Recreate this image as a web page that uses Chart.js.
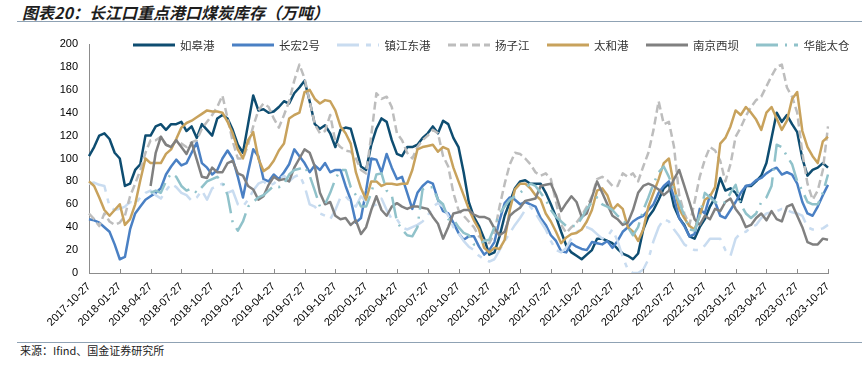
<!DOCTYPE html>
<html>
<head>
<meta charset="utf-8">
<script src="https://cdn.jsdelivr.net/npm/chart.js@4.4.0/dist/chart.umd.min.js"></script>
<style>
  html, body { margin: 0; padding: 0; background: #fff; }
  body { width: 862px; height: 368px; position: relative; overflow: hidden; font-family: "Noto Sans CJK SC", sans-serif; }
  .title { position: absolute; left: 22px; top: 3px; font-size: 16px; line-height: 18px; font-weight: bold; font-style: italic; color: #1e1e1e; white-space: nowrap; }
  .rule { position: absolute; left: 17px; right: 0; border-top: 1.5px solid #8fa2b4; }
  .source { position: absolute; left: 20px; top: 344px; font-size: 11px; line-height: 13px; color: #222; white-space: nowrap; }
  .wrap { position: absolute; left: 0; top: 0; width: 862px; height: 342px; }
  .legend { position: absolute; left: 133px; top: 38px; display: flex; align-items: center; font-size: 11.5px; line-height: 14px; color: #333; white-space: nowrap; }
  .legend .item { display: flex; align-items: center; margin-right: 17.5px; }
  .legend svg { margin-right: 5px; }
</style>
</head>
<body>
<div class="title">图表20：长江口重点港口煤炭库存（万吨）</div>
<div class="rule" style="top:21px"></div>
<div class="wrap"><canvas id="c"></canvas></div>
<div class="legend" id="legend"></div>
<div class="rule" style="top:342px"></div>
<div class="source">来源：Ifind、国金证券研究所</div>
<script>
// ---- data: half-monthly readings, 2017-10-27 .. 2023-10-27 (145 points) ----
const startYear = 2017, startMonth = 10;
const seriesNames = ["如皋港", "长宏2号", "镇江东港", "扬子江", "太和港", "南京西坝", "华能太仓"];

const rugao = [102,110,120,122,117,105,100,76,78,90,
  95,120,120,128,130,125,130,130,132,124,
  128,118,130,125,120,135,138,135,125,112,
  105,130,155,142,143,140,141,145,150,148,
  157,162,168,150,130,
  126,129,122,110,125,
  127,126,110,93,90,112,126,135,132,116,
  104,102,110,110,112,118,122,128,122,133,
  130,118,110,88,62,49,41,30,16,18,
  32,50,62,74,80,81,78,78,78,70,
  60,49,36,24,18,15,12,16,20,
  30,30,28,26,21,17,15,12,17,38,49,
  55,64,74,78,58,48,42,32,30,40,47,
  58,66,83,72,74,70,62,76,76,80,
  85,96,118,140,132,138,130,123,100,85,
  90,92,96,92];

const changhong = [47,46,44,40,36,25,12,14,38,52,
  58,64,67,70,74,86,93,99,94,96,
  105,114,96,92,86,90,100,107,100,84,
  66,88,108,102,82,80,86,82,88,95,
  108,102,96,88,94,
  90,96,88,90,90,
  76,64,44,48,72,100,99,88,104,92,
  82,84,70,56,70,76,80,78,64,54,
  52,44,35,29,32,32,23,16,20,27,
  46,61,66,64,60,62,60,58,48,42,
  33,28,19,18,26,23,21,20,27,
  26,25,28,22,28,36,40,45,48,50,55,
  60,70,76,80,66,48,41,32,34,56,52,
  68,62,50,48,55,62,70,76,77,81,
  83,87,90,92,86,88,86,78,62,52,
  50,58,68,77];

const zhenjiang = [78,79,77,76,58,55,56,58,62,60,
  66,70,72,68,65,72,78,75,70,68,
  63,66,72,64,74,76,78,70,72,60,
  58,64,72,78,80,76,78,82,85,80,
  84,86,76,60,58,
  52,50,47,55,66,67,62,58,67,62,58,60,65,55,47,47,40,38,40,42,45,50,58,61,58,50,40,35,28,23,20,15,12,10,12,
  20,28,35,42,48,55,58,52,45,38,28,20,18,22,30,36,38,40,38,34,
  30,32,38,28,14,3,0,0,3,12,28,40,47,45,38,32,25,22,20,20,
  24,30,30,30,20,15,30,35,36,40,42,48,52,53,54,56,55,53,52,50,40,38,38,39,42];

const yangzijiang = [52,47,41,52,45,42,44,50,67,78,
  90,105,116,116,119,112,110,116,113,110,
  114,116,126,132,138,145,155,135,115,100,
  100,112,128,142,148,145,135,127,138,150,
  168,182,170,150,130,
  122,124,138,115,110,107,106,100,90,87,120,157,152,154,145,122,116,105,100,
  110,116,120,125,122,102,93,70,55,50,45,40,32,28,26,
  35,58,78,95,105,104,100,95,88,85,87,82,62,42,35,40,44,50,58,67,
  82,84,81,76,76,87,84,87,80,93,105,125,150,130,132,110,68,52,42,62,84,99,
  110,107,98,80,95,119,127,137,145,151,154,163,172,180,182,162,154,140,105,78,64,72,90,128];

const taihe = [80,76,66,55,50,55,60,42,47,60,
  81,100,96,96,96,104,108,117,127,131,
  133,136,139,142,141,141,140,132,122,108,
  100,116,123,100,89,92,98,107,113,135,
  138,140,158,160,152,
  148,151,150,142,128,122,113,88,74,64,80,80,76,78,78,77,78,78,90,108,110,111,112,106,110,108,92,80,68,56,46,38,22,18,
  22,21,29,55,73,78,78,74,68,64,52,45,36,26,31,34,35,38,45,55,
  72,74,68,55,60,56,40,36,28,38,58,70,82,96,100,76,56,48,41,38,50,64,67,75,113,
  118,128,142,138,145,140,134,125,140,145,135,125,133,152,158,124,110,102,96,115,119];

const nanjing = [null,null,null,null,null,null,null,null,null,null,null,null,
  76,105,119,112,110,116,110,104,114,99,84,83,92,88,88,96,98,87,85,76,73,64,67,77,84,81,82,80,92,100,108,105,93,
  70,60,62,50,47,48,42,46,34,40,55,67,55,50,58,61,58,56,58,58,57,56,49,43,30,40,52,53,55,55,51,49,49,47,39,
  33,36,50,54,57,63,64,65,76,77,78,68,54,61,67,62,49,52,66,
  80,70,60,50,47,42,44,55,70,76,78,76,73,68,72,82,90,76,62,47,42,50,47,56,54,
  62,65,56,50,40,42,48,52,46,54,47,45,58,60,50,40,27,25,25,30,29];

const huaneng = [null,null,null,null,null,null,null,null,null,null,null,null,
  70,72,70,80,87,84,76,72,74,70,75,80,82,84,80,68,44,37,45,58,62,66,68,72,76,75,78,86,90,91,93,85,72,
  58,60,70,82,90,90,75,68,58,58,70,86,87,72,68,45,38,33,32,40,73,75,75,64,60,47,47,40,35,33,25,25,28,29,40,52,
  58,64,67,70,74,78,76,70,64,55,49,45,41,41,41,48,56,62,
  66,60,58,55,50,47,40,33,40,55,66,78,88,93,84,72,62,50,38,37,50,70,66,62,60,
  62,70,77,60,52,48,52,62,66,76,112,110,102,95,80,72,62,60,60,70,86];

const colors = ["#0E4D71", "#4A80C4", "#C9DCF0", "#BDBDBD", "#C8A25C", "#808080", "#90C2CA"];
const dashes = [[], [], [22, 7, 5, 7], [8, 4], [], [], [22, 7, 2, 7]];
const values = [rugao, changhong, zhenjiang, yangzijiang, taihe, nanjing, huaneng];

// category labels: the 27th and the 12th of each month
function pad2(n) { return String(n).padStart(2, "0"); }
const labels = rugao.map(function (v, i) {
  const m = startMonth - 1 + Math.ceil(i / 2);
  const y = startYear + Math.floor(m / 12);
  return y + "-" + pad2(m % 12 + 1) + "-" + (i % 2 === 0 ? "27" : "12");
});

// legend (HTML)
const legendEl = document.getElementById("legend");
seriesNames.forEach(function (name, i) {
  const item = document.createElement("div");
  item.className = "item";
  const dash = dashes[i].length ? ' stroke-dasharray="' + dashes[i].join(" ") + '"' : "";
  item.innerHTML = '<svg width="42" height="6"><line x1="0" y1="3" x2="42" y2="3" stroke="' + colors[i] +
    '" stroke-width="3"' + dash + '/></svg><span>' + name + '</span>';
  legendEl.appendChild(item);
});

// short tick marks pointing up into the plot on the x axis
const innerTicks = {
  id: "innerTicks",
  afterDraw: function (chart) {
    const xs = chart.scales.x, ctx = chart.ctx, y0 = chart.chartArea.bottom;
    ctx.save();
    ctx.strokeStyle = "#8c8c8c";
    ctx.lineWidth = 1;
    xs.ticks.forEach(function (t) {
      const px = Math.round(xs.getPixelForValue(t.value)) + 0.5;
      ctx.beginPath();
      ctx.moveTo(px, y0);
      ctx.lineTo(px, y0 - 4);
      ctx.stroke();
    });
    ctx.restore();
  }
};

new Chart(document.getElementById("c"), {
  type: "line",
  data: {
    labels: labels,
    datasets: seriesNames.map(function (name, i) {
      return {
        label: name,
        data: values[i],
        borderColor: colors[i],
        backgroundColor: colors[i],
        borderWidth: 2.5,
        borderDash: dashes[i],
        borderJoinStyle: "round",
        pointRadius: 0,
        tension: 0,
        spanGaps: false,
        order: seriesNames.length - 1 - i
      };
    })
  },
  options: {
    responsive: true,
    maintainAspectRatio: false,
    animation: false,
    layout: { padding: { left: 0, right: 34, top: 44, bottom: 0 } },
    plugins: { legend: { display: false }, tooltip: { enabled: false } },
    scales: {
      x: {
        type: "category",
        offset: false,
        grid: { display: false, drawTicks: false },
        border: { display: true, color: "#8c8c8c", width: 1 },
        ticks: {
          autoSkip: false, minRotation: 45, maxRotation: 45, padding: 7,
          color: "#000", font: { family: "'Liberation Sans', Arial, sans-serif", size: 11 }
        },
        afterBuildTicks: function (s) { s.ticks = s.ticks.filter(function (t) { return t.value % 6 === 0; }); },
        afterFit: function (s) { s.height = 69; }
      },
      y: {
        min: 0, max: 200,
        grid: { display: false, drawTicks: false },
        border: { display: true, color: "#8c8c8c", width: 1 },
        ticks: {
          stepSize: 20, padding: 11,
          color: "#000", font: { family: "'Liberation Sans', Arial, sans-serif", size: 11 }
        },
        afterFit: function (s) { s.width = 89; }
      }
    }
  },
  plugins: [innerTicks]
});
</script>
</body>
</html>
